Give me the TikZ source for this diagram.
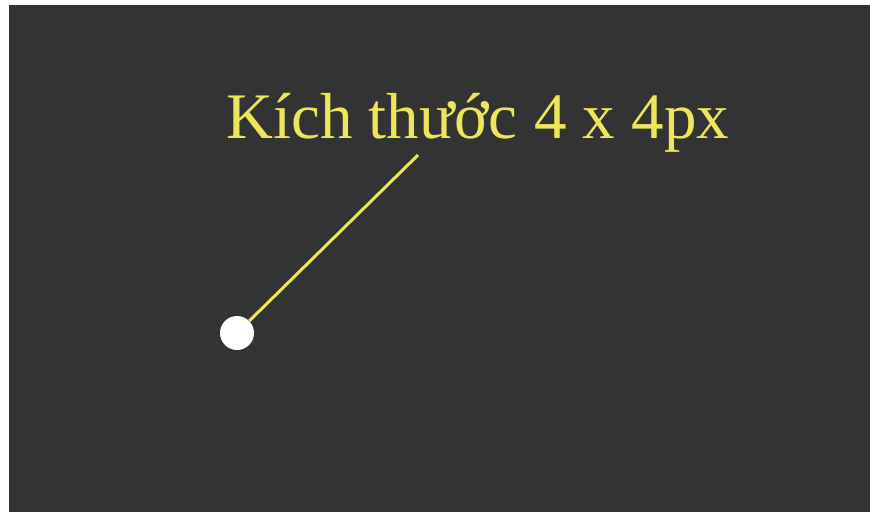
\documentclass[tikz,border=0pt]{standalone}
\usepackage{fontspec}
\setmainfont{Liberation Serif}
\usetikzlibrary{positioning}
\definecolor{bgdark}{RGB}{51,51,51}
\definecolor{labelyellow}{RGB}{238,230,90}

\begin{document}
\begin{tikzpicture}[
	x=1pt, y=-1pt,
	label text/.style={text=labelyellow, font=\fontsize{65}{70}\selectfont, inner sep=0pt, anchor=base west},
	pixel dot/.style={circle, fill=white, minimum size=34pt, inner sep=0pt},
	pointer/.style={draw=labelyellow, line width=3pt}
]
\useasboundingbox (0,0) rectangle (870,512);
\fill[bgdark] (9,5) rectangle (870,512);

\node[label text] (size) at (226,138) {Kích thước 4 x 4px};
\node[pixel dot] (dot) at (237,333) {};
\coordinate (tip) at (418,155);

\draw[pointer] (tip) -- (dot);
\end{tikzpicture}
\end{document}
